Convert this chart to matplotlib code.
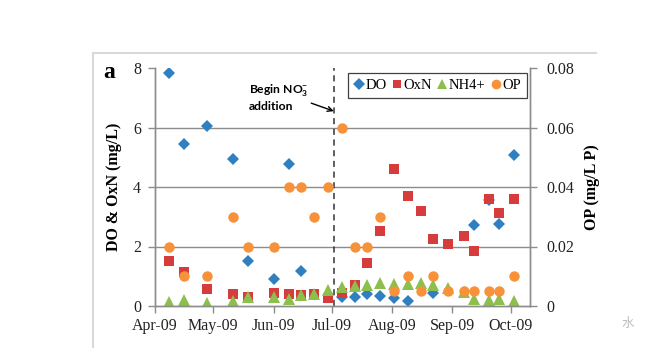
import matplotlib
matplotlib.use("Agg")
import matplotlib.pyplot as plt
import matplotlib.dates as mdates
import numpy as np
import pandas as pd
from matplotlib.lines import Line2D

dates = ["2009-04-08", "2009-04-16", "2009-04-28", "2009-05-11", "2009-05-19",
         "2009-06-01", "2009-06-09", "2009-06-15", "2009-06-22", "2009-06-29",
         "2009-07-06", "2009-07-13", "2009-07-19", "2009-07-26", "2009-08-02",
         "2009-08-09", "2009-08-16", "2009-08-22", "2009-08-30", "2009-09-07",
         "2009-09-12", "2009-09-20", "2009-09-25", "2009-10-03"]
nan = np.nan
do_vals = [7.83, 5.45, 6.05, 4.94, 1.51, 0.92, 4.77, 1.18, nan, nan,
           0.30, 0.30, 0.40, 0.33, 0.27, 0.18, nan, 0.44, nan, nan,
           2.72, 3.55, 2.75, 5.07]
oxn_vals = [1.52, 1.13, 0.56, 0.41, 0.30, 0.45, 0.40, 0.38, 0.40, 0.28,
            0.44, 0.71, 1.45, 2.52, 4.60, 3.69, 3.20, 2.25, 2.07, 2.35,
            1.86, 3.59, 3.11, 3.59]
nh4_vals = [0.13, 0.19, 0.10, 0.18, 0.30, 0.30, 0.23, 0.37, 0.40, 0.54,
            0.64, 0.67, 0.72, 0.77, 0.74, 0.74, 0.77, 0.70, 0.60, 0.47,
            0.23, 0.20, 0.23, 0.17]
op_vals = [0.02, 0.01, 0.01, 0.03, 0.02, 0.02, 0.04, 0.04, 0.03, 0.04,
           0.06, 0.02, 0.02, 0.03, 0.005, 0.01, 0.005, 0.01, 0.005, 0.005,
           0.005, 0.005, 0.005, 0.01]
no3_start = "2009-07-02"

c_do = "#2F7FC1"
c_oxn = "#D63C3C"
c_nh4 = "#8DBF4D"
c_op = "#F7923A"
grid_c = "#8C8C8C"

plt.rcParams["mathtext.fontset"] = "custom"
plt.rcParams["mathtext.rm"] = "Lato:bold"
plt.rcParams["mathtext.it"] = "Lato:bold"

x = pd.to_datetime(dates)

fig = plt.figure(figsize=(6.72, 3.57), dpi=100)
ax = fig.add_axes([155/672, 51/357, 375/672, 238/357])
ax2 = ax.twinx()

ax.plot(x, do_vals, "D", color=c_do, ms=6.5, mew=0, label="DO")
ax.plot(x, oxn_vals, "s", color=c_oxn, ms=6.5, mew=0, label="OxN")
ax.plot(x, nh4_vals, "^", color=c_nh4, ms=8, mew=0, label="NH4+")
ax2.plot(x, op_vals, "o", color=c_op, ms=7.5, mew=0, label="OP")

ax.set_xlim(pd.Timestamp("2009-04-01"), pd.Timestamp("2009-10-11"))
ax.set_ylim(0, 8)
ax2.set_ylim(0, 0.08)
ax.set_yticks([0, 2, 4, 6, 8])
ax2.set_yticks([0, 0.02, 0.04, 0.06, 0.08])
ax2.set_yticklabels(["0", "0.02", "0.04", "0.06", "0.08"])
for v in [2, 4, 6]:
    ax.axhline(v, color=grid_c, lw=1, zorder=0)

ax.xaxis.set_major_locator(mdates.MonthLocator())
ax.xaxis.set_major_formatter(mdates.DateFormatter("%b-%y"))

for a in (ax, ax2):
    a.spines["top"].set_visible(False)
    for s in ("left", "right", "bottom"):
        a.spines[s].set_color(grid_c)
        a.spines[s].set_linewidth(1)
    a.tick_params(colors=grid_c, labelcolor="#222222", length=5, width=1,
                  labelsize=11.5, labelfontfamily="Liberation Serif")
ax.tick_params(axis="y", pad=5)
ax.tick_params(axis="x", pad=4)
ax2.tick_params(axis="y", pad=7)

ax.set_ylabel("DO & OxN (mg/L)", fontsize=11.5, fontweight="bold",
              family="Liberation Serif", labelpad=8)
ax2.set_ylabel("OP (mg/L P)", fontsize=11.5, fontweight="bold",
               family="Liberation Serif", labelpad=7)

ax.axvline(pd.Timestamp(no3_start), color="#333333", lw=1.1,
           ls=(0, (4, 3)), zorder=1)
ax.annotate("Begin NO$_3^{-}$\naddition",
            xy=(pd.Timestamp(no3_start), 6.55), xycoords="data",
            xytext=(249/672, 1 - 97/357), textcoords="figure fraction",
            fontsize=8.7, fontweight="bold", family="Lato", va="center",
            ha="left", linespacing=1.35,
            arrowprops=dict(arrowstyle="->", color="black", lw=1,
                            shrinkA=0, shrinkB=0,
                            relpos=(0.97, 0.35)))

fig.text(109/672, 1 - 73/357, "a", fontsize=17, fontweight="bold",
         family="Liberation Serif", ha="center", va="center")

handles = [Line2D([], [], ls="", marker="D", color=c_do, ms=6, mew=0),
           Line2D([], [], ls="", marker="s", color=c_oxn, ms=6, mew=0),
           Line2D([], [], ls="", marker="^", color=c_nh4, ms=7, mew=0),
           Line2D([], [], ls="", marker="o", color=c_op, ms=7, mew=0)]
leg = ax2.legend(handles, ["DO", "OxN", "NH4+", "OP"], ncol=4,
                 loc="upper right", bbox_to_anchor=(527/672, 1 - 73/357),
                 bbox_transform=fig.transFigure,
                 prop={"family": "Liberation Serif", "size": 10.5},
                 handlelength=0.7, handletextpad=0.1, columnspacing=0.35,
                 borderpad=0.4, fancybox=False, framealpha=1,
                 edgecolor="#404040", borderaxespad=0)
leg.get_frame().set_linewidth(0.9)

# light outer frame of the original image
fig.add_artist(Line2D([93/672, 596/672], [1 - 53/357, 1 - 53/357],
                      color="#D9D9D9", lw=1.5, transform=fig.transFigure))
fig.add_artist(Line2D([93/672, 93/672], [1 - 53/357, 1 - 347/357],
                      color="#D9D9D9", lw=1.5, transform=fig.transFigure))
fig.text(628/672, 1 - 323/357, "水", fontsize=9, color="#BBBBBB",
         family=["Noto Sans CJK SC", "DejaVu Sans"], ha="center", va="center")

fig.savefig("out.png", dpi=100)
